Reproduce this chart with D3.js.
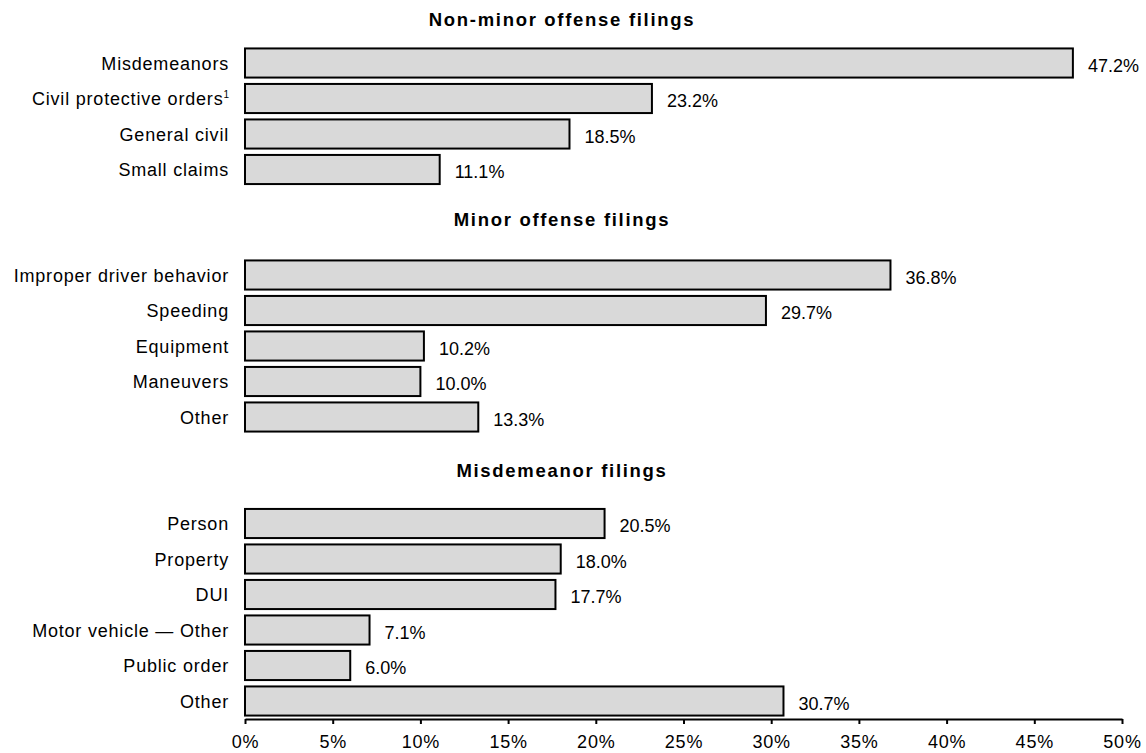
<!DOCTYPE html>
<html>
<head>
<meta charset="utf-8">
<script src="https://cdn.jsdelivr.net/npm/d3@7"></script>
<style>
  html, body { margin: 0; padding: 0; background: #fff; }
  svg { display: block; font-family: "Liberation Sans", Arial, sans-serif; }
</style>
</head>
<body>
<svg id="chart" width="1146" height="753"></svg>
<script>
// ---- Data ----
const groupTitles = ["Non-minor offense filings", "Minor offense filings", "Misdemeanor filings"];

const nonMinorCategories = ["Misdemeanors", "Civil protective orders", "General civil", "Small claims"];
const nonMinorValues = [47.2, 23.2, 18.5, 11.1];

const minorCategories = ["Improper driver behavior", "Speeding", "Equipment", "Maneuvers", "Other"];
const minorValues = [36.8, 29.7, 10.2, 10.0, 13.3];

const misdemeanorCategories = ["Person", "Property", "DUI", "Motor vehicle \u2014 Other", "Public order", "Other"];
const misdemeanorValues = [20.5, 18.0, 17.7, 7.1, 6.0, 30.7];

const footnoteCategories = { "Civil protective orders": "1" };

const xTicks = [0, 5, 10, 15, 20, 25, 30, 35, 40, 45, 50];

// ---- Layout ----
const svg = d3.select("#chart");
const x = d3.scaleLinear().domain([0, 50]).range([245, 1122]);
const step = 35.5;
const titleX = 562;

const groups = [
  { title: groupTitles[0], cats: nonMinorCategories, vals: nonMinorValues, firstCenter: 63, titleY: 26 },
  { title: groupTitles[1], cats: minorCategories, vals: minorValues, firstCenter: 275, titleY: 226 },
  { title: groupTitles[2], cats: misdemeanorCategories, vals: misdemeanorValues, firstCenter: 523.5, titleY: 477 }
];

groups.forEach(g => {
  const start = g.firstCenter - step / 2;
  const y = d3.scaleBand()
    .domain(g.cats)
    .range([start, start + g.cats.length * step])
    .paddingInner(0.18)
    .paddingOuter(0.09);

  const data = g.cats.map((c, i) => ({ cat: c, val: g.vals[i] }));
  const gg = svg.append("g");

  gg.append("text")
    .attr("x", titleX)
    .attr("y", g.titleY)
    .attr("text-anchor", "middle")
    .attr("font-size", 18.5)
    .attr("font-weight", "bold")
    .attr("letter-spacing", 1.7)
    .attr("fill", "#000")
    .text(g.title);

  gg.selectAll("rect.bar")
    .data(data)
    .join("rect")
    .attr("class", "bar")
    .attr("x", x(0))
    .attr("y", d => y(d.cat))
    .attr("width", d => x(d.val) - x(0))
    .attr("height", y.bandwidth())
    .attr("fill", "#d9d9d9")
    .attr("stroke", "#000")
    .attr("stroke-width", 2);

  const labels = gg.selectAll("text.cat")
    .data(data)
    .join("text")
    .attr("class", "cat")
    .attr("x", 229)
    .attr("y", d => y(d.cat) + y.bandwidth() / 2 + 6.5)
    .attr("text-anchor", "end")
    .attr("font-size", 18)
    .attr("letter-spacing", 0.8)
    .attr("fill", "#000");
  labels.each(function(d) {
    const t = d3.select(this);
    t.append("tspan").text(d.cat);
    if (footnoteCategories[d.cat]) {
      t.append("tspan")
        .attr("font-size", 10)
        .attr("dy", -7)
        .attr("letter-spacing", 0)
        .text(footnoteCategories[d.cat]);
    }
  });

  gg.selectAll("text.val")
    .data(data)
    .join("text")
    .attr("class", "val")
    .attr("x", d => x(d.val) + 15)
    .attr("y", d => y(d.cat) + y.bandwidth() / 2 + 8.5)
    .attr("font-size", 18)
    .attr("fill", "#000")
    .text(d => d.val.toFixed(1) + "%");
});

// ---- Axis ----
const axis = d3.axisBottom(x)
  .tickValues(xTicks)
  .tickFormat(d => d + "%")
  .tickSize(5)
  .tickSizeOuter(0);

const ax = svg.append("g")
  .attr("transform", "translate(0,719)")
  .call(axis);
ax.select(".domain").attr("stroke", "#000").attr("stroke-width", 2);
ax.selectAll(".tick line").attr("stroke", "#000").attr("stroke-width", 2);
ax.selectAll(".tick text")
  .attr("y", 29)
  .attr("dy", 0)
  .attr("font-size", 18)
  .attr("letter-spacing", 0.8)
  .attr("font-family", "Liberation Sans, Arial, sans-serif")
  .attr("fill", "#000");
</script>
</body>
</html>
